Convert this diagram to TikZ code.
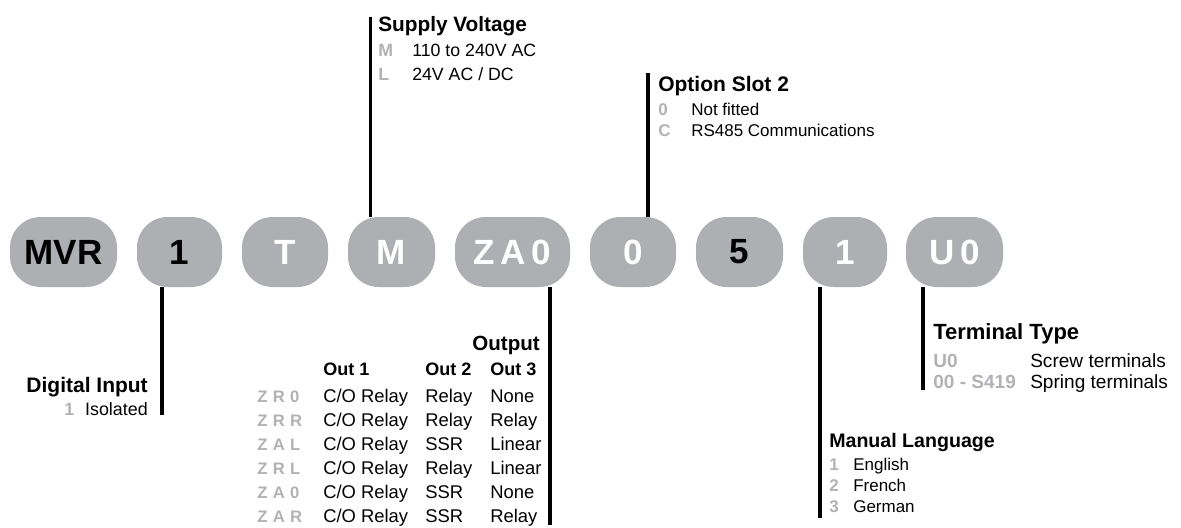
\documentclass[tikz,border=0pt]{standalone}
\usepackage{fontspec}
\setmainfont{Liberation Sans}
\definecolor{pillgray}{RGB}{174,175,178}
\definecolor{codegray}{RGB}{178,178,181}
\newcommand{\lks}{\kern0.16em}
\newcommand{\lkc}{\kern0.32em}
\begin{document}
\begin{tikzpicture}[x=0.75pt,y=-0.75pt,
  pillbox/.style={fill=pillgray, rounded corners=23pt, minimum height=52.5pt, inner sep=0pt,
    font=\fontsize{26.25}{30}\selectfont\bfseries},
  conn/.style={line width=2.6pt},
  ttl/.style={inner sep=0pt, anchor=base west, font=\fontsize{15.75}{18}\selectfont\bfseries},
  itm/.style={inner sep=0pt, anchor=base west, font=\fontsize{13.3}{16}\selectfont},
  cd/.style={inner sep=0pt, anchor=base west, text=codegray, font=\fontsize{13.3}{16}\selectfont\bfseries},
  hdr/.style={inner sep=0pt, anchor=base west, font=\fontsize{13.5}{16}\selectfont\bfseries},
  tbl/.style={inner sep=0pt, anchor=base west, font=\fontsize{13.8}{16}\selectfont},
  tcd/.style={inner sep=0pt, anchor=base west, text=codegray, font=\fontsize{12.5}{16}\selectfont\bfseries}
]
\useasboundingbox (0,0) rectangle (1181,528);

% pills
\node[pillbox, minimum width=80.25pt, text=black] (pMVR) at (63.5,252) {MVR};
\node[pillbox, minimum width=63.75pt, text=black] (pIn) at (179.5,252) {1};
\node[pillbox, minimum width=64.5pt, text=white] (pT) at (285,252) {T};
\node[pillbox, minimum width=65.25pt, text=white] (pM) at (391.5,252) {M};
\node[pillbox, minimum width=86.25pt, text=white] (pZA) at (512.5,252) {Z\lks A\lks 0};
\node[pillbox, minimum width=64.5pt, text=white] (pOpt) at (633,252) {0};
\node[pillbox, minimum width=65.25pt, text=black] (pFive) at (739.5,252) {5};
\node[pillbox, minimum width=63pt, text=white] (pLang) at (845,252) {1};
\node[pillbox, minimum width=72.75pt, text=white] (pU) at (954.5,252) {U\lks 0};

% connectors
\coordinate (diEnd) at (162,415);
\draw[conn] (pIn.south -| diEnd) -- (diEnd);
\coordinate (svTop) at (370.5,17);
\draw[conn] (svTop) -- (svTop |- pM.north);
\coordinate (outEnd) at (550,525);
\draw[conn] (pZA.south -| outEnd) -- (outEnd);
\coordinate (osTop) at (648,73);
\draw[conn] (osTop) -- (osTop |- pOpt.north);
\coordinate (mlEnd) at (820,518);
\draw[conn] (pLang.south -| mlEnd) -- (mlEnd);
\coordinate (ttEnd) at (923,390);
\draw[conn] (pU.south -| ttEnd) -- (ttEnd);

% Supply Voltage
\node[ttl, font=\fontsize{15.6}{18}\selectfont\bfseries] (svT) at (378,32) {Supply Voltage};
\node[cd] (svC1) at (378,57) {M};
\node[itm] (svI1) at (412,57) {110 to 240V AC};
\node[cd] (svC2) at (378,80) {L};
\node[itm] (svI2) at (412,80) {24V AC / DC};

% Option Slot 2
\node[ttl] (osT) at (658,91) {Option Slot 2};
\node[cd, font=\fontsize{12.75}{16}\selectfont\bfseries] (osC1) at (658,115) {0};
\node[itm, font=\fontsize{12.75}{16}\selectfont] (osI1) at (691,115) {Not fitted};
\node[cd, font=\fontsize{12.75}{16}\selectfont\bfseries] (osC2) at (658,137) {C};
\node[itm, font=\fontsize{12.75}{16}\selectfont] (osI2) at (691,137) {RS485 Communications};

% Digital Input
\node[ttl, anchor=base east] (diT) at (148,392) {Digital Input};
\node[itm, anchor=base east, font=\fontsize{13.4}{16}\selectfont] (diI) at (148,415) {Isolated};
\node[cd] (diC) at (64,415) {1};

% Output table
\node[ttl, anchor=base east, font=\fontsize{15.4}{18}\selectfont\bfseries] (outT) at (540,350) {Output};
\node[hdr] (h1) at (323,375) {Out 1};
\node[hdr] (h2) at (425,375) {Out 2};
\node[hdr] (h3) at (490,375) {Out 3};
\foreach \i/\ca/\cb/\cc/\ob/\oc in {0/Z/R/0/Relay/None, 1/Z/R/R/Relay/Relay, 2/Z/A/L/SSR/Linear,
    3/Z/R/L/Relay/Linear, 4/Z/A/0/SSR/None, 5/Z/A/R/SSR/Relay}{
  \node[tcd] (rc\i) at (257,402+24*\i) {\ca\lkc\cb\lkc\cc};
  \node[tbl] (ra\i) at (323,402+24*\i) {C/O Relay};
  \node[tbl] (rb\i) at (425,402+24*\i) {\ob};
  \node[tbl] (rx\i) at (490,402+24*\i) {\oc};
}

% Terminal Type
\node[ttl, font=\fontsize{16.5}{19}\selectfont\bfseries] (ttT) at (933,339) {Terminal Type};
\node[cd, font=\fontsize{14.3}{17}\selectfont\bfseries] (ttC1) at (933,367) {U0};
\node[itm, font=\fontsize{14.3}{17}\selectfont] (ttI1) at (1030,367) {Screw terminals};
\node[cd, font=\fontsize{14.3}{17}\selectfont\bfseries] (ttC2) at (933,388) {00 - S419};
\node[itm, font=\fontsize{14.3}{17}\selectfont] (ttI2) at (1030,388) {Spring terminals};

% Manual Language
\node[ttl, font=\fontsize{14.7}{17}\selectfont\bfseries] (mlT) at (829,447) {Manual Language};
\node[cd, font=\fontsize{12.75}{16}\selectfont\bfseries] (mlC1) at (829,470) {1};
\node[itm, font=\fontsize{12.75}{16}\selectfont] (mlI1) at (853,470) {English};
\node[cd, font=\fontsize{12.75}{16}\selectfont\bfseries] (mlC2) at (829,491) {2};
\node[itm, font=\fontsize{12.75}{16}\selectfont] (mlI2) at (853,491) {French};
\node[cd, font=\fontsize{12.75}{16}\selectfont\bfseries] (mlC3) at (829,512) {3};
\node[itm, font=\fontsize{12.75}{16}\selectfont] (mlI3) at (853,512) {German};
\end{tikzpicture}
\end{document}
